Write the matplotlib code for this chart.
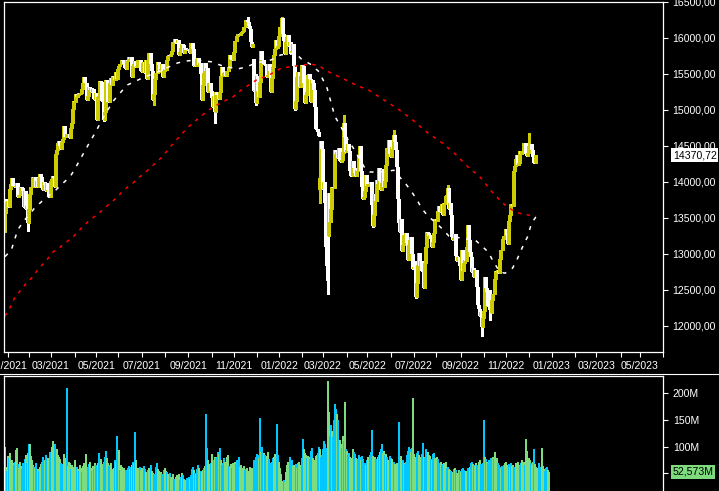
import numpy as np
import pandas as pd
import matplotlib
matplotlib.use("Agg")
import matplotlib.pyplot as plt
from matplotlib.lines import Line2D

first_open = 13330.0
close = [
    # 12/2020
    13560, 13760, 13718,
    # 01/2021
    13726, 13651, 13892, 13968, 14049, 13936, 13925, 13940, 13988, 13787,
    13815, 13815, 13921, 13906, 13873, 13643, 13871, 13620, 13665, 13432,
    # 02/2021
    13622, 13835, 13933, 14060, 14056, 14059, 13932, 14011, 13920, 14049,
    14109, 14064, 13909, 13887, 13993, 13950, 13865, 13976, 13879, 13786,
    # 03/2021
    14012, 14039, 14080, 14057, 13920, 14380, 14437, 14540, 14569, 14502,
    14461, 14557, 14597, 14775, 14621, 14621, 14657, 14662, 14610, 14748,
    14818, 15008, 15120,
    # 04/2021
    15107, 15212, 15176, 15202, 15234, 15215, 15234, 15285, 15367, 15460,
    15368, 15129, 15195, 15320, 15279, 15296, 15249, 15293, 15154, 15136,
    # 05/2021
    15236, 14856, 15170, 15197, 15400, 15380, 15120, 14851, 14967, 15417,
    15396, 15113, 15114, 15370, 15437, 15348, 15465, 15451, 15406, 15520, 15421,
    # 06/2021
    15568, 15602, 15632, 15693, 15677, 15640, 15581, 15571, 15693, 15673,
    15729, 15711, 15728, 15448, 15603, 15637, 15676, 15589, 15608, 15691,
    15691, 15531,
    # 07/2021
    15522, 15650, 15662, 15511, 15692, 15420, 15688, 15790, 15789, 15630,
    15541, 15133, 15217, 15422, 15514, 15669, 15618, 15519, 15570, 15640,
    15456, 15544,
    # 08/2021
    15568, 15555, 15692, 15744, 15761, 15745, 15770, 15822, 15937, 15977,
    15925, 15921, 15965, 15765, 15808, 15852, 15906, 15905, 15793, 15851,
    15836, 15835,
    # 09/2021
    15824, 15840, 15781, 15932, 15843, 15610, 15623, 15609, 15701, 15722,
    15616, 15652, 15490, 15132, 15349, 15507, 15644, 15532, 15574, 15249,
    15365, 15261,
    # 10/2021
    15156, 15036, 15195, 14973, 15252, 15207, 15199, 15147, 15250, 15463,
    15587, 15474, 15516, 15523, 15472, 15543, 15600, 15758, 15705, 15696, 15689,
    # 11/2021
    15806, 15955, 15960, 16030, 16054, 16047, 16041, 16067, 16083, 16094,
    16148, 16248, 16251, 16222, 16160, 16115, 15937, 15878, 15917, 15257,
    15280, 15100,
    # 12/2021
    15473, 15263, 15170, 15387, 15814, 15687, 15639, 15623, 15622, 15453,
    15476, 15636, 15532, 15240, 15447, 15594, 15756, 15838, 15964, 15853, 15885,
    # 01/2022
    16021, 16152, 16271, 16053, 15948, 15768, 15942, 16011, 16031, 15883,
    15934, 15773, 15810, 15912, 15603, 15011, 15124, 15460, 15525, 15318, 15471,
    # 02/2022
    15619, 15613, 15368, 15100, 15206, 15242, 15482, 15490, 15425, 15113,
    15412, 15370, 15267, 15042, 14731, 14693, 14631, 14052, 14567, 14461,
    # 03/2022
    13905, 14000, 13698, 13094, 12835, 12832, 13848, 13442, 13628, 13929,
    13917, 14441, 14388, 14413, 14326, 14474, 14283, 14274, 14306, 14418,
    14821, 14621, 14415,
    # 04/2022
    14446, 14519, 14424, 14152, 14078, 14284, 14193, 14125, 14076, 14164,
    14154, 14362, 14502, 14142, 13925, 13756, 13794, 13872, 14098,
    # 05/2022
    13940, 13971, 13970, 14002, 13674, 13380, 13534, 13829, 13739, 14028,
    13964, 14186, 14008, 13882, 13982, 14175, 13920, 14008, 14231, 14462,
    14576, 14388,
    # 06/2022
    14340, 14485, 14460, 14653, 14556, 14445, 14199, 13762, 13427, 13304,
    13484, 13038, 13126, 13265, 13293, 13145, 12913, 13118, 13186, 13231,
    13003, 12784,
    # 07/2022
    12813, 12773, 12401, 12595, 12843, 13015, 12832, 12905, 12756, 12519,
    12865, 13095, 13308, 13282, 13246, 13254, 13211, 13097, 13166, 13282, 13484,
    # 08/2022
    13479, 13449, 13587, 13662, 13574, 13688, 13535, 13700, 13694, 13795,
    13816, 13910, 13627, 13698, 13544, 13231, 13194, 13221, 13271, 12971,
    12892, 12961, 12835,
    # 09/2022
    12630, 13050, 12761, 12872, 12916, 12904, 13088, 13403, 13189, 13028,
    12956, 12741, 12803, 12671, 12767, 12531, 12284, 12227, 12140, 12184,
    11976, 12114,
    # 10/2022
    12209, 12671, 12518, 12471, 12273, 12273, 12220, 12173, 12356, 12438,
    12649, 12765, 12741, 12767, 12731, 12931, 13053, 13052, 13211, 13243, 13253,
    # 11/2022
    13338, 13257, 13130, 13460, 13533, 13689, 13667, 14146, 14224, 14313,
    14378, 14234, 14266, 14431, 14380, 14423, 14428, 14540, 14541, 14383,
    14355, 14397,
    # 12/2022
    14490, 14529, 14447, 14343, 14261, 14264, 14370.72,
]

# Umsatz in Mio. Stueck
volume = [
    100, 62, 55,
    82, 78, 88, 74, 70, 66, 72, 94, 97, 68, 60, 72, 64, 58, 70, 76, 84, 70, 88, 104,
    105, 82, 74, 66, 62, 60, 70, 58, 55, 62, 68, 72, 80, 66, 74, 85, 70, 78, 90, 82,
    100, 110, 92, 104, 88, 96, 84, 80, 76, 70, 68, 86, 78, 72, 209, 64, 72, 70, 58,
    66, 62, 74, 60,
    62, 58, 55, 66, 60, 52, 64, 70, 58, 86, 62, 68, 72, 60, 55, 64, 58, 70, 66, 62,
    70, 88, 76, 68, 62, 72, 80, 92, 78, 70, 64, 66, 70, 58, 60, 74, 72, 120, 62, 94, 56,
    66, 62, 58, 60, 56, 54, 60, 64, 58, 62, 66, 72, 70, 128, 74, 60, 58, 62, 56, 60,
    58, 64,
    58, 52, 48, 56, 60, 66, 54, 50, 48, 46, 62, 70, 58, 54, 50, 52, 48, 56, 60, 54, 52, 48,
    46, 50, 44, 42, 48, 40, 44, 46, 42, 48, 38, 44, 50, 46, 40, 38, 36, 42, 44, 40, 46, 58,
    62, 56, 50, 48, 58, 66, 60, 54, 52, 56, 60, 64, 160, 97, 75, 68, 60, 70, 86, 74, 80, 78,
    80, 90, 86, 97, 74, 66, 70, 78, 72, 80, 84, 64, 62, 68, 60, 70, 66, 72, 68, 74, 80,
    62, 66, 60, 58, 64, 56, 58, 60, 54, 52, 62, 60, 58, 74, 70, 80, 86, 84, 78, 153, 90, 100,
    88, 84, 80, 82, 90, 76, 70, 68, 72, 78, 80, 86, 142, 84, 72, 60, 48, 32, 36, 38, 34,
    52, 66, 72, 80, 70, 74, 64, 66, 62, 68, 60, 70, 72, 66, 78, 115, 96, 88, 84, 78, 82,
    80, 76, 92, 98, 78, 74, 82, 84, 88, 100, 96, 80, 84, 96, 110, 104, 98, 223, 165, 120,
    140, 130, 118, 150, 180, 170, 160, 150, 112, 104, 98, 120, 110, 184, 96, 92, 84, 88,
    80, 78, 96, 90, 86,
    78, 72, 76, 84, 80, 74, 82, 76, 70, 66, 74, 80, 78, 84, 90, 131, 82, 76, 80,
    76, 80, 84, 90, 96, 104, 88, 92, 84, 86, 80, 74, 82, 78, 76, 70, 72, 68, 64, 70, 66, 146,
    80, 82, 74, 70, 68, 72, 84, 92, 100, 96, 90, 98, 190, 86, 80, 88, 92, 84, 76, 80, 86, 106,
    80, 78, 96, 90, 84, 82, 76, 74, 86, 88, 78, 74, 80, 76, 70, 72, 66, 68, 70, 64, 72,
    60, 62, 58, 56, 54, 52, 58, 60, 56, 50, 48, 56, 54, 52, 58, 60, 56, 54, 52, 60, 58, 62, 70,
    72, 68, 66, 64, 70, 66, 72, 74, 68, 66, 70, 150, 80, 76, 72, 70, 74, 78, 72, 80, 76, 90,
    74, 78, 70, 66, 62, 60, 64, 66, 70, 72, 66, 64, 68, 62, 70, 64, 66, 62, 70, 68, 72,
    66, 64, 70, 74, 68, 72, 66, 115, 92, 78, 74, 70, 66, 72, 95, 68, 62, 60, 58, 70, 62, 97,
    64, 58, 54, 60, 62, 56, 52.573,
]

# Tage mit Kurslücke (Eröffnung weicht vom Vortagesschluss ab)
gap_idx = [235, 297, 306]
gap_open = [15700, 13880, 13250]

# markante Dochte (Tagestief / Tageshoch)
wick_idx = [0, 22, 93, 141, 198, 229, 237, 261, 274, 297, 304, 305, 320, 347, 367, 388, 418, 450, 458, 495]
wick_lo = [13300, 13310, 14840, 15063, 14818, 16150, 15060, 16130, 14990, 13700, 12630, 12440,
           14400, 13370, 14560, 12390, 13800, 11860, 12080, 14430]
wick_hi = [13600, 13650, 15180, 15470, 15180, 16290, 15500, 16285, 15600, 14450, 13100, 13250,
           14925, 13650, 14720, 12900, 13950, 12200, 12500, 14675]

# gleitende Durchschnitte (weiß = 50 Tage, rot = 200 Tage), Stützstellen
ma50_idx = [0, 6, 9, 12, 17, 28, 35, 48, 62, 67, 80, 85, 94, 103, 115, 131, 147, 154, 163, 170,
            180, 195, 204, 219, 227, 237, 251, 260, 274, 280, 288, 297, 299, 304, 306, 309, 311,
            316, 325, 330, 339, 344, 357, 367, 371, 379, 384, 389, 393, 399, 407, 412, 419, 426,
            436, 442, 449, 456, 460, 467, 472, 479, 483, 488, 493, 497, 501]
ma50_val = [12960, 13050, 13190, 13330, 13440, 13635, 13730, 13885, 14080, 14205, 14550, 14675,
            14925, 15135, 15340, 15450, 15540, 15590, 15650, 15675, 15690, 15665, 15615, 15565,
            15590, 15650, 15690, 15760, 15790, 15700, 15635, 15520, 15450, 15300, 15190, 15035,
            14915, 14790, 14550, 14440, 14205, 14135, 14135, 14160, 14090, 13955, 13855, 13745,
            13635, 13525, 13425, 13355, 13245, 13230, 13200, 13215, 13120, 13025, 12915, 12745,
            12730, 12800, 12910, 13080, 13230, 13425, 13510]
ma200_idx = [0, 5, 9, 20, 26, 32, 39, 44, 51, 58, 65, 72, 78, 86, 92, 99, 106, 112, 120, 127,
             134, 140, 148, 159, 172, 184, 196, 209, 215, 223, 237, 249, 261, 276, 288, 297, 302,
             318, 333, 343, 356, 370, 385, 398, 413, 426, 440, 447, 453, 459, 465, 472, 479, 486,
             495, 501]
ma200_val = [12135, 12260, 12385, 12590, 12675, 12800, 12900, 13010, 13080, 13160, 13245, 13355,
             13440, 13535, 13605, 13700, 13785, 13885, 13970, 14065, 14150, 14230, 14340, 14535,
             14745, 14900, 15035, 15135, 15175, 15275, 15410, 15480, 15580, 15610, 15635, 15610,
             15550, 15440, 15330, 15275, 15150, 15020, 14855, 14690, 14535, 14370, 14160, 14090,
             13980, 13870, 13775, 13675, 13605, 13560, 13535, 13520]

holidays = ['2020-12-31', '2021-01-01', '2021-04-02', '2021-04-05', '2021-12-24', '2021-12-31',
            '2022-04-15', '2022-04-18', '2022-12-26', '2023-04-07', '2023-04-10', '2023-05-01']

plt.rcParams['font.family'] = ['Liberation Sans', 'DejaVu Sans']

n = min(len(close), len(volume))
close = np.array(close[:n], dtype=float)
volume = np.array(volume[:n], dtype=float)
opens = np.r_[first_open, close[:-1]]
for i, o in zip(gap_idx, gap_open):
    if i < n:
        opens[i] = o
body_lo = np.minimum(opens, close)
body_hi = np.maximum(opens, close)
lows = body_lo.copy()
highs = body_hi.copy()
for i, l, h in zip(wick_idx, wick_lo, wick_hi):
    if i < n:
        lows[i] = min(l, lows[i])
        highs[i] = max(h, highs[i])
up = close >= opens
x = np.arange(n)

YELLOW = '#CCCC00'
GREEN = '#7EDC7E'
BLUE = '#00C8FF'

W, H = 719, 491
fig = plt.figure(figsize=(W / 100, H / 100), dpi=100, facecolor='black')

# Pixelgrenzen der beiden Panels
left, right = 3.5, 663
ax = fig.add_axes([left / W, 1 - 352 / H, (right - left) / W, (352 - 1.5) / H], facecolor='black')
ax2 = fig.add_axes([left / W, 0, (right - left) / W, (H - 376) / H], facecolor='black')

px_day = 1.0862
x0 = 5.0
xlim = ((left - x0) / px_day, (right - x0) / px_day)

# Kerzen
cols = np.where(up, YELLOW, 'white')
ax.vlines(x, lows, highs, colors=cols, lw=0.8, antialiased=False)
ax.vlines(x, body_lo, body_hi, colors=cols, lw=1.7, antialiased=False)

ax.plot(ma200_idx, ma200_val, color='#FF0000', lw=1.1, dashes=(2.2, 3.6))
ax.plot(ma50_idx, ma50_val, color='white', lw=1.1, dashes=(2.6, 4.4))

ax.set_xlim(*xlim)
ax.set_ylim(11635, 16503)

yt = np.arange(12000, 16501, 500)
ax.set_yticks(yt)
ax.set_yticklabels([f"{v:.2f}".replace('.', ',') for v in yt])
ax.yaxis.tick_right()

# Monatsticks aus dem Handelskalender
dates = pd.bdate_range('2020-12-28', '2023-06-30', freq='C', holidays=holidays)
months = dates.to_period('M')
tick_pos = [i for i in range(1, len(dates)) if months[i] != months[i - 1]]
tick_lab = [dates[i].strftime('%m/%Y') if dates[i].month % 2 == 1 else '' for i in tick_pos]
ax.set_xticks(tick_pos)
ax.set_xticklabels(tick_lab)

for a in (ax, ax2):
    for s in a.spines.values():
        s.set_color('white')
        s.set_linewidth(0.9)
    a.tick_params(colors='white', labelcolor='white', labelsize=7.6, length=3.6, width=0.8,
                  direction='out')
ax.tick_params(axis='y', pad=3)
ax.tick_params(axis='x', pad=3)

ax.annotate(f"{close[-1]:.2f}".replace('.', ','), xy=(1, close[-1]),
            xycoords=('axes fraction', 'data'), xytext=(7, 0), textcoords='offset points',
            va='center', ha='left', fontsize=7.6, color='black', annotation_clip=False,
            bbox=dict(boxstyle='square,pad=0.15', fc='white', ec='none'), zorder=5)

# Umsatz (2 px breite Balken, wie im Original leicht überlappend)
vcols = np.where(up, GREEN, BLUE)
ax2.vlines(x, 0, volume, colors=vcols, lw=1.3, antialiased=False)
ax2.set_xlim(*xlim)
ax2.set_ylim(16.9, 232)
ax2.set_xticks([])
ax2.spines['bottom'].set_visible(False)
ax2.yaxis.tick_right()
vt = [50, 100, 150, 200]
ax2.set_yticks(vt)
ax2.set_yticklabels([f"{v}M" for v in vt])

last_vol = f"{volume[-1]:.3f}".replace('.', ',') + "M"
ax2.annotate(last_vol, xy=(1, volume[-1]), xycoords=('axes fraction', 'data'),
             xytext=(7, 0), textcoords='offset points', va='center', ha='left',
             fontsize=7.6, color='black', annotation_clip=False,
             bbox=dict(boxstyle='square,pad=0.15', fc=GREEN, ec='none'), zorder=5)

# Trennlinie zwischen den Panels
fig.add_artist(Line2D([0, 1], [1 - 374 / H] * 2, color='white', lw=0.8))

fig.savefig('out.png', dpi=100, facecolor='black')
